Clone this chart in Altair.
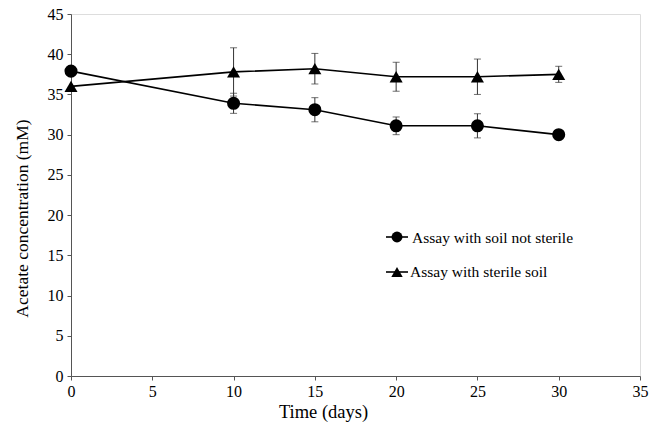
import altair as alt
import pandas as pd

days = [0, 10, 15, 20, 25, 30]
nonsterile = [37.9, 33.9, 33.1, 31.1, 31.1, 30.0]
nonsterile_err = [0.0, 1.25, 1.5, 1.1, 1.5, 0.0]
sterile = [36.0, 37.8, 38.2, 37.2, 37.2, 37.5]
sterile_err = [0.0, 3.0, 1.9, 1.8, 2.2, 1.0]
series_names = ["Assay with soil not sterile", "Assay with sterile soil"]

rows = []
for d, v, e in zip(days, nonsterile, nonsterile_err):
    rows.append({"day": d, "val": v, "lo": v - e, "hi": v + e, "err": e, "series": series_names[0]})
for d, v, e in zip(days, sterile, sterile_err):
    rows.append({"day": d, "val": v, "lo": v - e, "hi": v + e, "err": e, "series": series_names[1]})
df = pd.DataFrame(rows)

FONT = "Liberation Serif"
W, H = 569, 362

xs = alt.Scale(domain=[0, 35], nice=False, zero=False)
ys = alt.Scale(domain=[0, 45], nice=False)
shape_scale = alt.Scale(domain=series_names, range=["circle", "triangle-up"])

x_enc = alt.X("day:Q", scale=xs, title="Time (days)",
              axis=alt.Axis(values=list(range(0, 36, 5)), grid=False, tickSize=4,
                            labelFontSize=16, titleFontSize=18.5, labelPadding=3,
                            labelFlush=False, labelOverlap=False,
                            titleX=252, titleY=35, titleBaseline="middle", titleAlign="center",
                            domainColor="#555", tickColor="#555",
                            labelColor="black", titleColor="black", titleFontWeight="normal",
                            labelFont=FONT, titleFont=FONT))
y_enc = alt.Y("val:Q", scale=ys, title="Acetate concentration (mM)",
              axis=alt.Axis(values=list(range(0, 46, 5)), grid=False, tickSize=4,
                            labelFontSize=16, titleFontSize=17.5, labelPadding=4,
                            labelFlush=False, labelOverlap=False,
                            titleX=-49, titleY=204, titleBaseline="middle", titleAlign="center",
                            titleAngle=270,
                            domainColor="#555", tickColor="#555",
                            labelColor="black", titleColor="black", titleFontWeight="normal",
                            labelFont=FONT, titleFont=FONT))

base = alt.Chart(df)

lines = base.mark_line(color="black", strokeWidth=1.6).encode(
    x=x_enc, y=y_enc, detail="series:N")

err_df = df[df["err"] > 0]
eb = alt.Chart(err_df)
err_rule = eb.mark_rule(color="#333", strokeWidth=1).encode(
    x="day:Q", y="lo:Q", y2="hi:Q")
cap_lo = eb.mark_tick(color="#333", thickness=1, size=7, orient="horizontal").encode(
    x="day:Q", y="lo:Q")
cap_hi = eb.mark_tick(color="#333", thickness=1, size=7, orient="horizontal").encode(
    x="day:Q", y="hi:Q")

points = base.mark_point(filled=True, color="black", opacity=1, size=170).encode(
    x="day:Q", y="val:Q",
    shape=alt.Shape("series:N", scale=shape_scale, legend=None))

# manual legend
leg_df = pd.DataFrame({"series": series_names})
leg_rule1 = alt.Chart(leg_df.iloc[[0]]).mark_rule(color="black", strokeWidth=1.6).encode(
    x=alt.value(315), x2=alt.value(337), y=alt.value(223))
leg_rule2 = alt.Chart(leg_df.iloc[[1]]).mark_rule(color="black", strokeWidth=1.6).encode(
    x=alt.value(315), x2=alt.value(337), y=alt.value(258))
leg_pt1 = alt.Chart(leg_df.iloc[[0]]).mark_point(filled=True, color="black", opacity=1, size=120, shape="circle").encode(
    x=alt.value(326), y=alt.value(223))
leg_pt2 = alt.Chart(leg_df.iloc[[1]]).mark_point(filled=True, color="black", opacity=1, size=130, shape="triangle-up").encode(
    x=alt.value(326), y=alt.value(258))
leg_txt1 = alt.Chart(leg_df.iloc[[0]]).mark_text(align="left", baseline="middle", font=FONT, fontSize=15.5, color="black").encode(
    x=alt.value(341), y=alt.value(224), text="series:N")
leg_txt2 = alt.Chart(leg_df.iloc[[1]]).mark_text(align="left", baseline="middle", font=FONT, fontSize=15.5, color="black").encode(
    x=alt.value(339), y=alt.value(258), text="series:N")

chart = alt.layer(lines, err_rule, cap_lo, cap_hi, points,
                  leg_rule1, leg_rule2, leg_pt1, leg_pt2, leg_txt1, leg_txt2).properties(
    width=W, height=H,
    autosize=alt.AutoSizeParams(type="none"),
    padding={"left": 71, "top": 14, "right": 17, "bottom": 49},
).configure_view(stroke="#666", strokeWidth=1.2).configure(background="white")

chart.save("out.html", embed_options={"renderer": "svg", "actions": False})
